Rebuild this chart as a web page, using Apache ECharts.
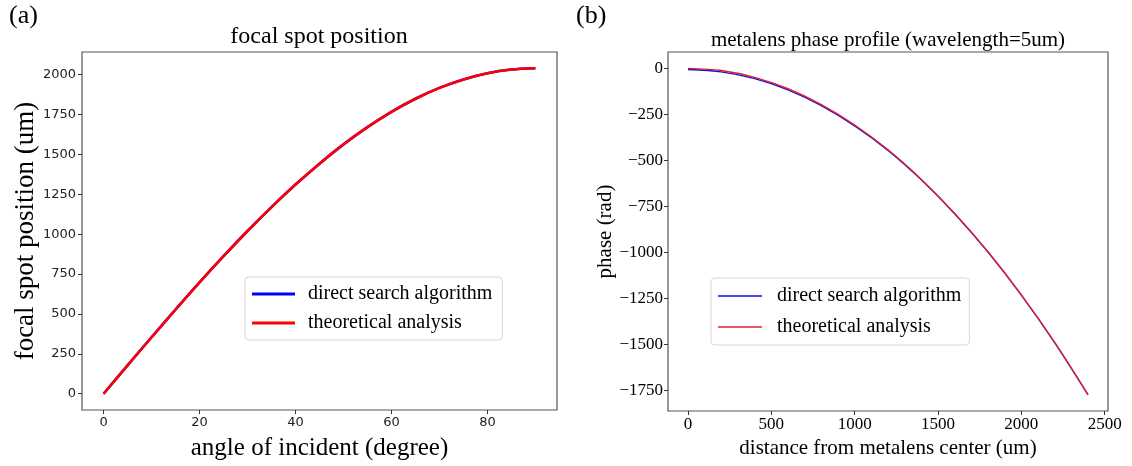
<!DOCTYPE html>
<html>
<head>
<meta charset="utf-8">
<script src="https://cdn.jsdelivr.net/npm/echarts@6/dist/echarts.min.js"></script>
<style>
html, body { margin: 0; padding: 0; background: #fff; }
#main { width: 1132px; height: 466px; }
</style>
</head>
<body>
<div id="main"></div>
<script>
// (a) focal spot position vs angle
var angles = [0, 5, 10, 15, 20, 25, 30, 35, 40, 45, 50, 55, 60, 65, 70, 75, 80, 85, 90];
var focalSearch = [0, 178, 354, 528, 698, 862, 1020, 1170, 1311, 1442, 1563, 1671, 1767, 1849, 1917, 1970, 2009, 2032, 2040];
var focalTheory = [0, 178, 354, 528, 698, 862, 1020, 1170, 1311, 1442, 1563, 1671, 1767, 1849, 1917, 1970, 2009, 2032, 2040];
var angleTicks = [0, 20, 40, 60, 80];
var focalTicks = [0, 250, 500, 750, 1000, 1250, 1500, 1750, 2000];

// (b) phase profile vs distance
var distance = [0, 200, 400, 600, 800, 1000, 1200, 1400, 1600, 1800, 2000, 2200, 2400];
var phaseSearch = [-6, -19, -56, -117, -203, -313, -446, -606, -791, -1000, -1234, -1492, -1776];
var phaseTheory = [0, -12, -49, -111, -197, -308, -443, -604, -789, -998, -1232, -1491, -1775];
var distTicks = [0, 500, 1000, 1500, 2000, 2500];
var phaseTicks = [0, -250, -500, -750, -1000, -1250, -1500, -1750];

function pairs(xs, ys) {
	var out = [];
	for (var i = 0; i < xs.length; i++) {
		out.push([xs[i], ys[i]]);
	}
	return out;
}

function plain(v) {
	return String(v).replace('-', '\u2212');
}

var serif = 'Liberation Serif';
var myChart = echarts.init(document.getElementById('main'));

var option = {
	animation : false,
	backgroundColor : '#fff',
	graphic : [
		{ type : 'text', left : 9, top : 3, style : { text : '(a)', font : '26px "Liberation Serif"', fill : '#000' } },
		{ type : 'text', left : 576, top : 3, style : { text : '(b)', font : '26px "Liberation Serif"', fill : '#000' } },
		{ type : 'text', x : 319, y : 25, style : { text : 'focal spot position', font : '24px "Liberation Serif"', fill : '#000', textAlign : 'center' } },
		{ type : 'text', x : 888, y : 30, style : { text : 'metalens phase profile (wavelength=5um)', font : '21px "Liberation Serif"', fill : '#000', textAlign : 'center' } }
	],
	grid : [
		{ left : 82, top : 52, width : 475, height : 359, show : true, borderColor : '#555', borderWidth : 1.2 },
		{ left : 668, top : 52, width : 440, height : 359, show : true, borderColor : '#555', borderWidth : 1.2 }
	],
	legend : [
		{
			orient : 'vertical', left : 245, top : 277, selectedMode : false,
			borderColor : '#d8d8d8', borderWidth : 1, borderRadius : 4,
			padding : [7, 10, 7, 7], itemGap : 9, itemWidth : 43, itemHeight : 3,
			textStyle : { fontFamily : serif, fontSize : 20, color : '#000', padding : [0, 0, 0, 8] },
			data : [
				{ name : 'direct search algorithm', icon : 'rect', itemStyle : { color : '#0000ff' } },
				{ name : 'theoretical analysis', icon : 'rect', itemStyle : { color : '#ff0000' } }
			]
		},
		{
			orient : 'vertical', left : 711, top : 278, selectedMode : false,
			borderColor : '#d8d8d8', borderWidth : 1, borderRadius : 4,
			padding : [8, 8, 8, 7], itemGap : 11, itemWidth : 44, itemHeight : 1.5,
			textStyle : { fontFamily : serif, fontSize : 20, color : '#000', padding : [0, 0, 0, 10] },
			data : [
				{ name : 'direct search algorithm', icon : 'rect', itemStyle : { color : '#1010e0' } },
				{ name : 'theoretical analysis', icon : 'rect', itemStyle : { color : '#e0202a' } }
			]
		}
	],
	xAxis : [
		{
			type : 'value', gridIndex : 0, min : -4.5, max : 94.5,
			name : 'angle of incident (degree)', nameLocation : 'middle', nameGap : 26,
			nameTextStyle : { fontFamily : serif, fontSize : 25, color : '#000' },
			axisLine : { show : false, onZero : false },
			axisTick : { show : true, length : 4, customValues : angleTicks, lineStyle : { color : '#333' } },
			axisLabel : { customValues : angleTicks, fontFamily : 'DejaVu Sans', fontSize : 13, color : '#222', margin : 6, formatter : plain },
			splitLine : { show : false }
		},
		{
			type : 'value', gridIndex : 1, min : -120, max : 2520,
			name : 'distance from metalens center (um)', nameLocation : 'middle', nameGap : 19,
			nameTextStyle : { fontFamily : serif, fontSize : 21, color : '#000' },
			axisLine : { show : false, onZero : false },
			axisTick : { show : true, length : 4, customValues : distTicks, lineStyle : { color : '#333' } },
			axisLabel : { customValues : distTicks, fontFamily : serif, fontSize : 17, color : '#000', margin : 5, formatter : plain },
			splitLine : { show : false }
		}
	],
	yAxis : [
		{
			type : 'value', gridIndex : 0, min : -102, max : 2142,
			name : 'focal spot position (um)', nameLocation : 'middle', nameGap : 36,
			nameTextStyle : { fontFamily : serif, fontSize : 27, color : '#000' },
			axisLine : { show : false, onZero : false },
			axisTick : { show : true, length : 4, customValues : focalTicks, lineStyle : { color : '#333' } },
			axisLabel : { customValues : focalTicks, fontFamily : 'DejaVu Sans', fontSize : 13, color : '#222', margin : 6, formatter : plain },
			splitLine : { show : false }
		},
		{
			type : 'value', gridIndex : 1, min : -1864, max : 89,
			name : 'phase (rad)', nameLocation : 'middle', nameGap : 50,
			nameTextStyle : { fontFamily : serif, fontSize : 21, color : '#000' },
			axisLine : { show : false, onZero : false },
			axisTick : { show : true, length : 4, customValues : phaseTicks, lineStyle : { color : '#333' } },
			axisLabel : { customValues : phaseTicks, fontFamily : serif, fontSize : 17, color : '#000', margin : 5, formatter : plain },
			splitLine : { show : false }
		}
	],
	series : [
		{
			name : 'direct search algorithm', type : 'line', xAxisIndex : 0, yAxisIndex : 0,
			data : pairs(angles, focalSearch), showSymbol : false, smooth : 0.3,
			lineStyle : { color : '#0000ff', width : 2.6 }, itemStyle : { color : '#0000ff' }
		},
		{
			name : 'theoretical analysis', type : 'line', xAxisIndex : 0, yAxisIndex : 0,
			data : pairs(angles, focalTheory), showSymbol : false, smooth : 0.3,
			lineStyle : { color : '#ff0000', width : 2.6 }, itemStyle : { color : '#ff0000' }
		},
		{
			name : 'direct search algorithm', type : 'line', xAxisIndex : 1, yAxisIndex : 1,
			data : pairs(distance, phaseSearch), showSymbol : false, smooth : 0.3,
			lineStyle : { color : '#1010e0', width : 1.4 }, itemStyle : { color : '#1010e0' }
		},
		{
			name : 'theoretical analysis', type : 'line', xAxisIndex : 1, yAxisIndex : 1,
			data : pairs(distance, phaseTheory), showSymbol : false, smooth : 0.3,
			lineStyle : { color : '#e0202a', width : 1.4 }, itemStyle : { color : '#e0202a' }
		}
	]
};
myChart.setOption(option);
</script>
</body>
</html>
